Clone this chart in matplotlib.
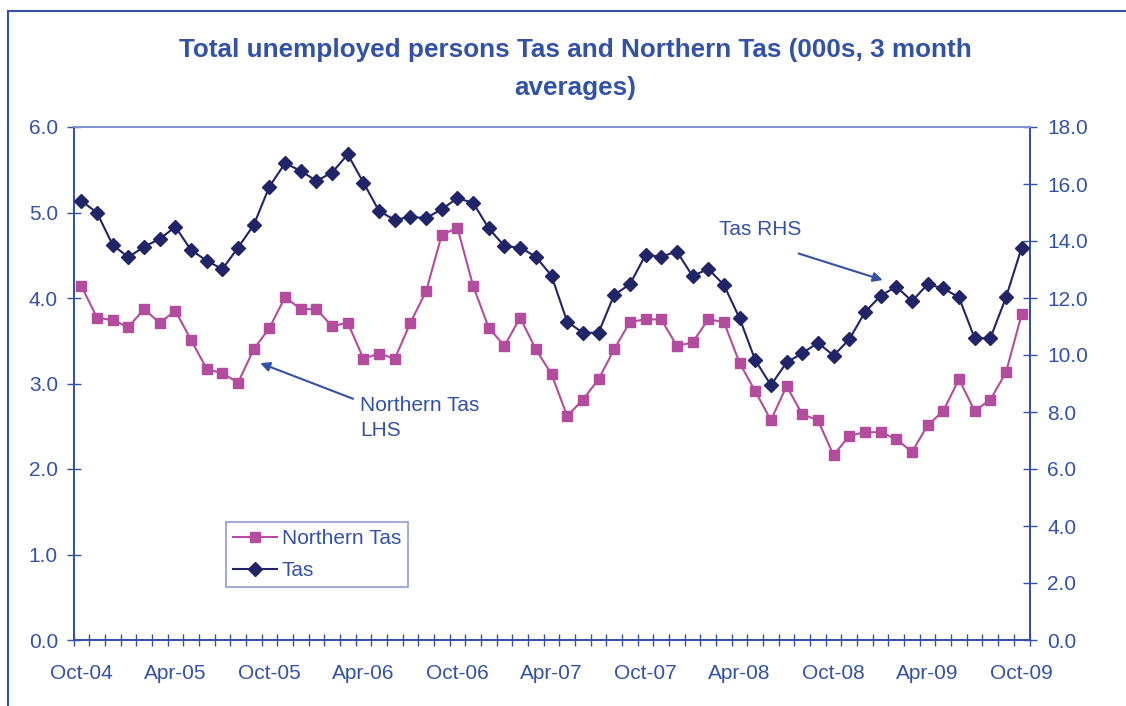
import matplotlib
matplotlib.use('Agg')
import matplotlib.pyplot as plt
from matplotlib import font_manager
from matplotlib.patches import Rectangle
from matplotlib.lines import Line2D

# monthly 3 month averages, Oct-04 .. Oct-09
NORTHERN_TAS = [4.14, 3.77, 3.74, 3.66, 3.87, 3.71, 3.85, 3.51, 3.17, 3.12,
                3.01, 3.40, 3.65, 4.01, 3.87, 3.87, 3.67, 3.71, 3.29, 3.35,
                3.29, 3.71, 4.08, 4.74, 4.82, 4.14, 3.65, 3.44, 3.77, 3.40,
                3.11, 2.62, 2.81, 3.05, 3.40, 3.72, 3.75, 3.75, 3.44, 3.48,
                3.75, 3.72, 3.24, 2.91, 2.57, 2.97, 2.64, 2.57, 2.16, 2.39,
                2.43, 2.43, 2.35, 2.20, 2.51, 2.68, 3.05, 2.68, 2.81, 3.13,
                3.81]
TAS = [15.41, 14.99, 13.86, 13.43, 13.80, 14.07, 14.50, 13.68, 13.31, 13.01,
       13.77, 14.56, 15.91, 16.73, 16.46, 16.11, 16.40, 17.04, 16.05, 15.05,
       14.74, 14.85, 14.80, 15.12, 15.50, 15.34, 14.44, 13.82, 13.77, 13.45,
       12.78, 11.17, 10.78, 10.78, 12.11, 12.48, 13.51, 13.45, 13.63, 12.77,
       13.02, 12.46, 11.29, 9.82, 8.94, 9.74, 10.06, 10.43, 9.98, 10.55,
       11.50, 12.08, 12.40, 11.89, 12.48, 12.34, 12.02, 10.59, 10.59, 12.02,
       13.77]
LABELS = ['Oct-04', 'Apr-05', 'Oct-05', 'Apr-06', 'Oct-06', 'Apr-07',
          'Oct-07', 'Apr-08', 'Oct-08', 'Apr-09', 'Oct-09']

BLUE = '#3352A6'
PINK = '#B44C9E'
NAVY = '#222468'

# title font: narrow if we have it
try:
    font_manager.findfont('Liberation Sans Narrow', fallback_to_default=False)
    TITLE_FONT, TITLE_SIZE = 'Liberation Sans Narrow', 21
except Exception:
    TITLE_FONT, TITLE_SIZE = 'Liberation Sans', 18.8

plt.rcParams['font.family'] = ['Liberation Sans', 'DejaVu Sans']

fig = plt.figure(figsize=(11.26, 7.06), dpi=100)
ax = fig.add_axes([73.5 / 1126, 1 - 640 / 706.0, 956 / 1126.0, 513 / 706.0])
ax2 = ax.twinx()

x = list(range(len(NORTHERN_TAS)))
ax.plot(x, NORTHERN_TAS, color=PINK, lw=1.5, marker='s', ms=7, zorder=3)
ax2.plot(x, TAS, color=NAVY, lw=1.5, marker='D', ms=7, zorder=3)

ax.set_xlim(-0.5, 60.5)
ax.set_ylim(0, 6)
ax2.set_ylim(0, 18)

ax.set_yticks([0, 1, 2, 3, 4, 5, 6])
ax.set_yticklabels(['%.1f' % v for v in range(7)])
ax2.set_yticks(range(0, 19, 2))
ax2.set_yticklabels(['%.1f' % v for v in range(0, 19, 2)])

# ticks on category boundaries, labels every 6 months
ax.set_xticks([i - 0.5 for i in range(62)])
ax.set_xticklabels([])
ax.set_xticks(list(range(0, 61, 6)), LABELS, minor=True)
ax.tick_params(axis='x', which='major', direction='inout', length=8,
               width=1, color=BLUE)
ax.tick_params(axis='x', which='minor', length=0, pad=17, labelsize=15,
               labelcolor=BLUE)
ax.tick_params(axis='y', direction='inout', length=9.5, width=1, color=BLUE,
               labelsize=15, labelcolor=BLUE, pad=6.5)
ax2.tick_params(axis='y', direction='inout', length=9.5, width=1, color=BLUE,
                labelsize=15, labelcolor=BLUE, pad=8)

for a in (ax, ax2):
    for s in a.spines.values():
        s.set_color(BLUE)
        s.set_linewidth(1.3)
    a.spines['top'].set_color('#8095CC')

# annotations
ax.text(17.8, 2.85, 'Northern Tas\nLHS', color=BLUE, fontsize=15,
        ha='left', va='top', linespacing=1.4)
ax.annotate('', xy=(11.25, 3.25), xytext=(17.5, 2.81),
            arrowprops=dict(arrowstyle='-|>', color=BLUE, lw=1.5,
                            mutation_scale=14))
ax.text(43.3, 4.80, 'Tas RHS', color=BLUE, fontsize=15, ha='center',
        va='center')
ax.annotate('', xy=(51.3, 4.20), xytext=(45.6, 4.53),
            arrowprops=dict(arrowstyle='-|>', color=BLUE, lw=1.5,
                            mutation_scale=14))

handles = [Line2D([], [], color=PINK, lw=1.5, marker='s', ms=7),
           Line2D([], [], color=NAVY, lw=1.5, marker='D', ms=7)]
leg = ax.legend(handles, ['Northern Tas', 'Tas'], loc='lower left',
                bbox_to_anchor=(0.159, 0.103), fontsize=15, frameon=True,
                fancybox=False, handlelength=2.1, handletextpad=0.25,
                labelspacing=0.6, borderpad=0.35, borderaxespad=0)
for t in leg.get_texts():
    t.set_color(BLUE)
leg.get_frame().set_edgecolor('#7D90C8')
leg.get_frame().set_linewidth(1.3)

fig.text(0.511, 1 - 69 / 706.0,
         'Total unemployed persons Tas and Northern Tas (000s, 3 month\naverages)',
         ha='center', va='center', color=BLUE, fontsize=TITLE_SIZE,
         fontweight='bold', family=TITLE_FONT, linespacing=1.7)

# outer border of the chart area
fig.patches.append(Rectangle((8 / 1126.0, -0.05), 1.2, 1 - 11 / 706.0 + 0.05,
                             transform=fig.transFigure, fill=False,
                             edgecolor=BLUE, lw=1.5))

fig.savefig('out.png', dpi=100)
